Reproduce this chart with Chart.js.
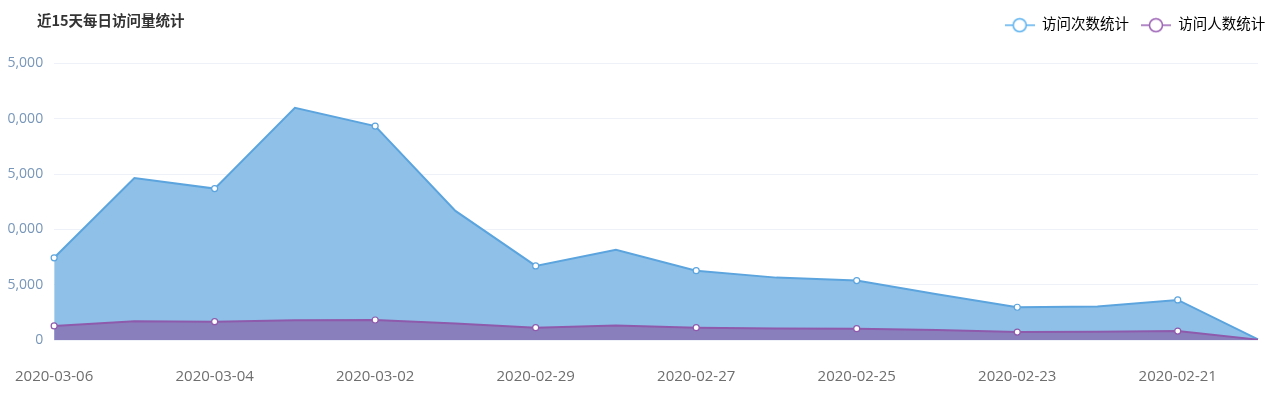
<!DOCTYPE html>
<html>
<head>
<meta charset="utf-8">
<script src="https://cdn.jsdelivr.net/npm/chart.js@4/dist/chart.umd.min.js"></script>
<style>
  html, body { margin: 0; padding: 0; background: #fff; }
  #wrap { position: relative; width: 1284px; height: 399px; overflow: hidden; }
  #title { position: absolute; left: 37px; top: 9px; font: bold 14.5px "Noto Sans CJK SC", "Open Sans", sans-serif; color: #333; z-index: 2; }
  #clip { position: absolute; left: 7px; top: 0; width: 1500px; height: 399px; overflow: hidden; }
  canvas { position: absolute; left: -17px; top: 0; }
</style>
</head>
<body>
<div id="wrap">
  <div id="title">近15天每日访问量统计</div>
  <div id="clip"><canvas id="c" width="1294" height="399"></canvas></div>
</div>
<script>
const categories = ['2020-03-06','2020-03-05','2020-03-04','2020-03-03','2020-03-02','2020-03-01','2020-02-29','2020-02-28','2020-02-27','2020-02-26','2020-02-25','2020-02-24','2020-02-23','2020-02-22','2020-02-21','2020-02-20'];
const visits   = [7430, 14650, 13690, 21000, 19340, 11670, 6700, 8150, 6270, 5640, 5370, 4140, 2960, 3020, 3620, 60];
const visitors = [1270, 1690, 1660, 1780, 1810, 1500, 1110, 1300, 1110, 1050, 1020, 900, 720, 750, 810, 30];
const yTicks = [0, 5000, 10000, 15000, 20000, 25000];
const seriesNames = ['访问次数统计', '访问人数统计'];

const FONT = '"Open Sans", "Noto Sans CJK SC", sans-serif';
const blueLine = '#5ba4de', blueFill = '#8fc0e8';
const purpleLine = '#8e5aab', purpleFill = '#8a7fbd';
const blueIcon = '#5ab1ef', purpleIcon = '#9a60b4';

// page layout targets (viewport px)
const CLIP_LEFT = 7, AREA_LEFT = 54, AREA_RIGHT = 1258, LEGEND_RIGHT = 1277;
let cssLeft = -17;

function legendIcon(color) {
  const cv = document.createElement('canvas');
  cv.width = 30; cv.height = 16;
  const g = cv.getContext('2d');
  g.strokeStyle = color; g.lineWidth = 1.5;
  g.beginPath(); g.moveTo(0, 8); g.lineTo(30, 8); g.stroke();
  g.fillStyle = '#fff';
  g.beginPath(); g.arc(15, 8, 6.5, 0, Math.PI * 2); g.fill(); g.stroke();
  return cv;
}
const icons = [legendIcon(blueIcon), legendIcon(purpleIcon)];

const legendTweak = {
  id: 'legendTweak',
  beforeInit(chart) {
    const lg = chart.legend;
    if (!lg) return;
    const orig = lg.fit.bind(lg);
    lg.fit = function () { orig(); this.height += 21; };
  },
  afterLayout(chart) {
    if (chart.legend) chart.legend.right = LEGEND_RIGHT - CLIP_LEFT - cssLeft;
  }
};

function makeConfig() {
  return {
    type: 'line',
    data: {
      labels: categories,
      datasets: [
        {
          label: seriesNames[0], data: visits, order: 2,
          borderColor: blueLine, backgroundColor: blueFill, fill: 'origin',
          borderWidth: 2, tension: 0,
          pointRadius: ctx => ctx.dataIndex % 2 === 0 ? 3 : 0,
          pointBackgroundColor: '#fff', pointBorderColor: blueLine, pointBorderWidth: 1.2
        },
        {
          label: seriesNames[1], data: visitors, order: 1,
          borderColor: purpleLine, backgroundColor: purpleFill, fill: 'origin',
          borderWidth: 2, tension: 0,
          pointRadius: ctx => ctx.dataIndex % 2 === 0 ? 3 : 0,
          pointBackgroundColor: '#fff', pointBorderColor: purpleLine, pointBorderWidth: 1.2
        }
      ]
    },
    plugins: [legendTweak],
    options: {
      responsive: false,
      animation: false,
      layout: { padding: { top: 6, right: 26, left: 0, bottom: 0 } },
      plugins: {
        tooltip: { enabled: false },
        title: { display: false },
        legend: {
          display: true, position: 'top', align: 'end',
          labels: {
            usePointStyle: true, pointStyleWidth: 30, boxHeight: 14,
            padding: 12, color: '#333',
            font: { family: FONT, size: 14.5 },
            generateLabels: chart => chart.data.datasets.map((d, i) => ({
              text: d.label, pointStyle: icons[i], datasetIndex: i,
              fillStyle: '#fff', strokeStyle: '#fff', lineWidth: 0, hidden: false
            }))
          }
        }
      },
      scales: {
        x: {
          grid: { display: false, drawTicks: false },
          border: { display: false },
          ticks: {
            autoSkip: false, maxRotation: 0, padding: 28, color: '#6e6e6e',
            font: { family: FONT, size: 15 },
            callback: (v, i) => i % 2 === 0 ? categories[i] : ''
          },
          afterFit: s => { s.height = 59; }
        },
        y: {
          min: 0, max: 25000,
          afterBuildTicks: s => { s.ticks = yTicks.map(v => ({ value: v })); },
          grid: { color: '#eef1f7', drawTicks: false, lineWidth: 1 },
          border: { display: false },
          ticks: {
            padding: 11, color: '#7896b9',
            font: { family: FONT, size: 14 },
            callback: v => v.toLocaleString('en-US')
          },
          afterFit: s => { s.width = 54; }
        }
      }
    }
  };
}

const canvas = document.getElementById('c');
// pass 1: measure where the library puts the plot area
let chart = new Chart(canvas, makeConfig());
const L = chart.chartArea.left, R = chart.chartArea.right;
const W0 = chart.width;
chart.destroy();
// pass 2: size/position the canvas so the plot area sits where the reference has it
const W = Math.round(W0 + (AREA_RIGHT - AREA_LEFT) - (R - L));
cssLeft = AREA_LEFT - CLIP_LEFT - L;
canvas.width = W; canvas.height = 399;
canvas.style.width = W + 'px'; canvas.style.height = '399px';
canvas.style.left = cssLeft + 'px';
chart = new Chart(canvas, makeConfig());
</script>
</body>
</html>
